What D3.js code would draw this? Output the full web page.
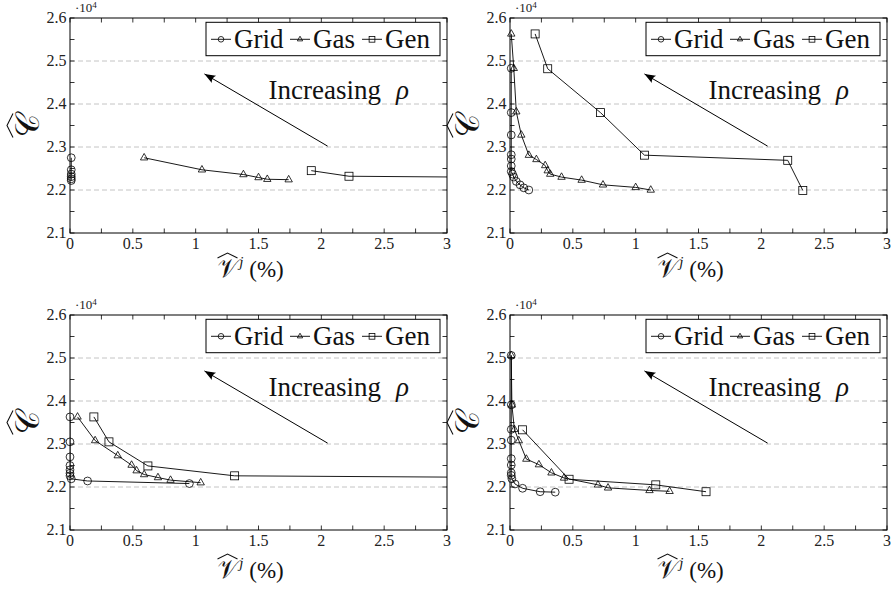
<!DOCTYPE html>
<html><head><meta charset="utf-8">
<script src="https://cdn.jsdelivr.net/npm/d3@7"></script>
<style>
svg text { font-family: "Liberation Serif", "Times New Roman", FreeSerif, Times !important; }
</style>
</head><body style="margin:0"><svg id="c" width="893" height="594" font-family="Liberation Serif"></svg>
<script>
// ---------- data (cost in units of 10^4) ----------
const xTickVals = [0, 0.5, 1, 1.5, 2, 2.5, 3];
const yTickVals = [2.1, 2.2, 2.3, 2.4, 2.5, 2.6];
const gridLineVals = [2.2, 2.3, 2.4, 2.5];
const seriesNames = ["Grid", "Gas", "Gen"];

// panel A (top-left)
const gridX_a = [0.01, 0.01, 0.01, 0.01, 0.01, 0.01];
const gridY_a = [2.275, 2.247, 2.237, 2.231, 2.226, 2.222];
const gasX_a = [0.59, 1.05, 1.38, 1.50, 1.57, 1.74];
const gasY_a = [2.275, 2.247, 2.236, 2.229, 2.225, 2.224];
const genX_a = [1.92, 2.22, 3.60];
const genY_a = [2.245, 2.232, 2.229];

// panel B (top-right)
const gridX_b = [0.01, 0.01, 0.01, 0.01, 0.01, 0.01, 0.01, 0.02, 0.03, 0.05, 0.08, 0.11, 0.15];
const gridY_b = [2.483, 2.380, 2.328, 2.282, 2.272, 2.256, 2.243, 2.237, 2.230, 2.220, 2.212, 2.205, 2.200];
const gasX_b = [0.01, 0.03, 0.05, 0.09, 0.15, 0.21, 0.28, 0.30, 0.32, 0.41, 0.57, 0.74, 1.00, 1.12];
const gasY_b = [2.563, 2.483, 2.382, 2.328, 2.281, 2.271, 2.257, 2.245, 2.237, 2.230, 2.223, 2.212, 2.206, 2.200];
const genX_b = [0.20, 0.30, 0.72, 1.07, 2.21, 2.33];
const genY_b = [2.563, 2.482, 2.380, 2.281, 2.269, 2.199];

// panel C (bottom-left)
const gridX_c = [0.0, 0.0, 0.0, 0.0, 0.0, 0.0, 0.0, 0.01, 0.14, 0.95];
const gridY_c = [2.363, 2.305, 2.270, 2.250, 2.240, 2.232, 2.226, 2.219, 2.214, 2.208];
const gasX_c = [0.06, 0.20, 0.38, 0.49, 0.53, 0.59, 0.70, 0.80, 1.04];
const gasY_c = [2.363, 2.308, 2.273, 2.251, 2.238, 2.229, 2.222, 2.216, 2.210];
const genX_c = [0.19, 0.31, 0.62, 1.31, 3.60];
const genY_c = [2.363, 2.305, 2.249, 2.226, 2.222];

// panel D (bottom-right)
const gridX_d = [0.01, 0.01, 0.01, 0.01, 0.01, 0.01, 0.01, 0.01, 0.015, 0.04, 0.10, 0.24, 0.36];
const gridY_d = [2.506, 2.391, 2.334, 2.309, 2.266, 2.251, 2.233, 2.227, 2.219, 2.207, 2.197, 2.189, 2.188];
const gasX_d = [0.01, 0.015, 0.035, 0.07, 0.13, 0.23, 0.33, 0.43, 0.70, 0.78, 1.11, 1.27];
const gasY_d = [2.506, 2.391, 2.334, 2.308, 2.265, 2.252, 2.233, 2.221, 2.205, 2.198, 2.192, 2.190];
const genX_d = [0.10, 0.47, 1.16, 1.56];
const genY_d = [2.333, 2.218, 2.205, 2.189];

// annotation (data coordinates)
const arrowFrom = [2.05, 2.302];
const arrowTo = [1.07, 2.470];
const annoText = "Increasing";
const annoSymbol = "ρ";
const annoPos = [1.58, 2.411];

// ---------- layout ----------
const W = 377, H = 215;
const panels = [
  {x0: 70, y0: 18, xl: 259, data: [[gridX_a, gridY_a], [gasX_a, gasY_a], [genX_a, genY_a]]},
  {x0: 510, y0: 18, xl: 259, data: [[gridX_b, gridY_b], [gasX_b, gasY_b], [genX_b, genY_b]]},
  {x0: 70, y0: 315, xl: 263, data: [[gridX_c, gridY_c], [gasX_c, gasY_c], [genX_c, genY_c]]},
  {x0: 510, y0: 315, xl: 263, data: [[gridX_d, gridY_d], [gasX_d, gasY_d], [genX_d, genY_d]]}
];
const legendLineStart = [5, 84, 156];
const legendBoxW = 234, legendBoxH = 33.4;

const svg = d3.select("#c");
const defs = svg.append("defs");
defs.append("marker").attr("id", "arrowhead")
  .attr("viewBox", "-12 -6 14 12").attr("refX", 0).attr("refY", 0)
  .attr("markerWidth", 14).attr("markerHeight", 12).attr("markerUnits", "userSpaceOnUse")
  .attr("orient", "auto")
  .append("path").attr("d", "M0,0 L-11,-4.2 Q-8,0 -11,4.2 Z").attr("fill", "#000");
defs.append("clipPath").attr("id", "plotclip")
  .append("rect").attr("x", 0).attr("y", 0).attr("width", W).attr("height", H);

const x = d3.scaleLinear().domain([0, 3]).range([0, W]);
const y = d3.scaleLinear().domain([2.1, 2.6]).range([H, 0]);

function txt(g) {
  return g.append("text").attr("font-family", "Liberation Serif").style("font-family", `"Liberation Serif"`);
}

function marker(g, type, cx, cy, s) {
  if (type === 0) {
    g.append("circle").attr("cx", cx).attr("cy", cy).attr("r", 3.9 * s)
      .attr("fill", "none").attr("stroke", "#000").attr("stroke-width", 0.8);
  } else if (type === 1) {
    const a = 4.3 * s, b = 3.7 * s, c = 2.2 * s;
    g.append("path").attr("d", `M${cx},${cy - a} L${cx + b},${cy + c} L${cx - b},${cy + c} Z`)
      .attr("fill", "none").attr("stroke", "#000").attr("stroke-width", 0.8);
  } else {
    const h = 4 * s;
    g.append("rect").attr("x", cx - h).attr("y", cy - h).attr("width", 2 * h).attr("height", 2 * h)
      .attr("fill", "none").attr("stroke", "#000").attr("stroke-width", 0.8);
  }
}

panels.forEach(p => {
  const g = svg.append("g").attr("transform", `translate(${p.x0},${p.y0})`);

  g.selectAll(".gl").data(gridLineVals).enter().append("line")
    .attr("x1", 0).attr("x2", W).attr("y1", d => y(d)).attr("y2", d => y(d))
    .attr("stroke", "#c4c4c4").attr("stroke-width", 1).attr("stroke-dasharray", "5,3");

  const xt = d3.range(0, 3.0001, 0.25);
  const yt = d3.range(2.1, 2.6001, 0.05);
  xt.forEach(v => {
    g.append("line").attr("x1", x(v)).attr("x2", x(v)).attr("y1", H).attr("y2", H - 4.5).attr("stroke", "#000").attr("stroke-width", 0.8);
    g.append("line").attr("x1", x(v)).attr("x2", x(v)).attr("y1", 0).attr("y2", 4.5).attr("stroke", "#000").attr("stroke-width", 0.8);
  });
  yt.forEach(v => {
    g.append("line").attr("x1", 0).attr("x2", 4.5).attr("y1", y(v)).attr("y2", y(v)).attr("stroke", "#000").attr("stroke-width", 0.8);
    g.append("line").attr("x1", W).attr("x2", W - 4.5).attr("y1", y(v)).attr("y2", y(v)).attr("stroke", "#000").attr("stroke-width", 0.8);
  });

  xTickVals.forEach(d => {
    txt(g).attr("x", x(d)).attr("y", H + 15.5).attr("text-anchor", "middle")
      .attr("font-size", 16).attr("fill", "#222").text(d3.format("~g")(d));
  });
  yTickVals.forEach(d => {
    txt(g).attr("x", -3.5).attr("y", y(d)).attr("dy", "0.33em").attr("text-anchor", "end")
      .attr("font-size", 16).attr("fill", "#222").text(d.toFixed(1));
  });

  const ex = txt(g).attr("x", 5).attr("y", -6).attr("font-size", 13).attr("fill", "#222");
  ex.append("tspan").text("·10");
  ex.append("tspan").attr("dy", -4).attr("font-size", 9).text("4");

  const line = d3.line().x(d => x(d[0])).y(d => y(d[1]));
  const lg = g.append("g").attr("clip-path", "url(#plotclip)");
  p.data.forEach((s, i) => {
    const pts = s[0].map((v, k) => [v, s[1][k]]);
    lg.append("path").attr("d", line(pts)).attr("fill", "none").attr("stroke", "#000").attr("stroke-width", 0.9);
  });
  const mg = g.append("g");
  p.data.forEach((s, i) => {
    s[0].forEach((v, k) => { if (v <= 3) marker(mg, i, x(v), y(s[1][k]), 1); });
  });

  g.append("rect").attr("x", 0).attr("y", 0).attr("width", W).attr("height", H)
    .attr("fill", "none").attr("stroke", "#000").attr("stroke-width", 1);

  g.append("line").attr("x1", x(arrowFrom[0])).attr("y1", y(arrowFrom[1]))
    .attr("x2", x(arrowTo[0])).attr("y2", y(arrowTo[1]))
    .attr("stroke", "#000").attr("stroke-width", 1).attr("marker-end", "url(#arrowhead)");
  const at = txt(g).attr("x", x(annoPos[0])).attr("y", y(annoPos[1]))
    .attr("font-size", 27).attr("fill", "#111");
  at.append("tspan").text(annoText);
  at.append("tspan").attr("dx", 15).attr("font-style", "italic").text(annoSymbol);

  // legend
  const leg = g.append("g").attr("transform", `translate(${W - 7 - legendBoxW},4.3)`);
  leg.append("rect").attr("x", 0).attr("y", 0).attr("width", legendBoxW).attr("height", legendBoxH)
    .attr("fill", "#fff").attr("stroke", "#000").attr("stroke-width", 1);
  const ly = 17;
  seriesNames.forEach((nm, i) => {
    const p0 = legendLineStart[i];
    leg.append("line").attr("x1", p0).attr("x2", p0 + 20).attr("y1", ly).attr("y2", ly).attr("stroke", "#000").attr("stroke-width", 0.9);
    marker(leg, i, p0 + 10, ly, 0.72);
    txt(leg).attr("x", p0 + 23).attr("y", ly + 9).attr("font-size", 27).attr("fill", "#111").text(nm);
  });

  // y label: script C with wide hat, rotated
  const yl = g.append("g").attr("transform", `translate(-43,${H / 2}) rotate(-90)`);
  txt(yl).attr("x", 0).attr("y", 12).attr("text-anchor", "middle")
    .attr("font-size", 32).attr("fill", "#111").text("𝒞");
  yl.append("path").attr("d", "M-12,-14 L0,-20 L12,-14").attr("fill", "none").attr("stroke", "#111").attr("stroke-width", 1.1);

  // x label
  const xlg = g.append("g").attr("transform", `translate(${W / 2},${p.xl})`);
  const xt2 = txt(xlg).attr("x", -41).attr("y", 0)
    .attr("font-size", 23).attr("fill", "#111");
  xt2.append("tspan").attr("font-size", 25).text("𝒱");
  xt2.append("tspan").attr("font-style", "italic").attr("font-size", 15).attr("dy", -10).attr("dx", 1).text("j");
  xt2.append("tspan").attr("dy", 10).text(" (%)");
  xlg.append("path").attr("d", "M-41,-19 L-31,-24 L-21,-19")
    .attr("fill", "none").attr("stroke", "#111").attr("stroke-width", 1.1);
});
</script>
</body></html>
